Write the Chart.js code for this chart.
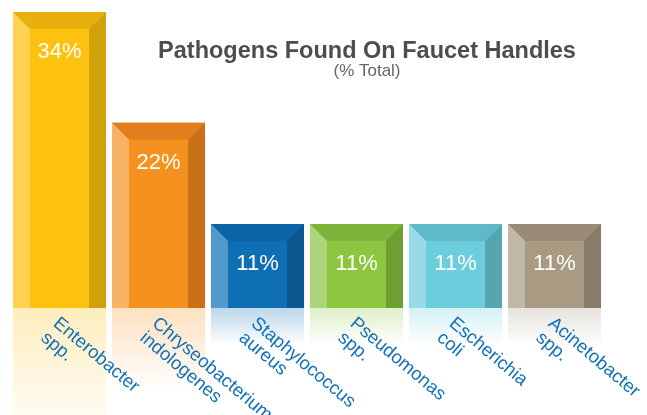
<!DOCTYPE html>
<html>
<head>
<meta charset="utf-8">
<script src="https://cdn.jsdelivr.net/npm/chart.js@4"></script>
<style>
  body { margin: 0; background: #fff; }
  #wrap { width: 647px; height: 415px; }
</style>
</head>
<body>
<div id="wrap"><canvas id="myChart" width="647" height="415"></canvas></div>
<script>
/*** Datos */
var etiquetas = [
    ["Enterobacter", "spp."],
    ["Chryseobacterium", "indologenes"],
    ["Staphylococcus", "aureus"],
    ["Pseudomonas", "spp."],
    ["Escherichia", "coli"],
    ["Acinetobacter", "spp."]
];
var porcentajes = [34, 22, 11, 11, 11, 11];
var titulo = "Pathogens Found On Faucet Handles";
var subtitulo = "(% Total)";

var yMin = 1.9;
var yMax = 34;

/*** Colores de cada barra (cara, lado izq, arriba, lado der) */
var colorCara = ['#fdc20f', '#f5921f', '#0e6fb5', '#8cc53f', '#6ccddc', '#a89a83'];
var colorIzq  = ['#fdd152', '#f8b266', '#5299cc', '#acd47a', '#98dbe6', '#c2b8a8'];
var colorArr  = ['#e7b00f', '#e07f1c', '#0c63a5', '#7db43a', '#5fbac8', '#998b75'];
var colorDer  = ['#cfa20c', '#c97118', '#0b5890', '#6f9f31', '#56a6b2', '#877b69'];
var colorRefl = ['253,194,15', '245,146,31', '14,111,181', '140,197,63', '108,205,220', '168,154,131'];

var bisel = 17;

var pluginBarras = {
    id: 'barras3d',
    beforeDatasetsDraw: function(chart) {
        // reflejo debajo de cada barra
        var ctx = chart.ctx;
        var meta = chart.getDatasetMeta(0);
        meta.data.forEach(function(bar, i) {
            var izq = bar.x - bar.width / 2;
            var alto = (bar.base - bar.y) * 0.45;
            var grad = ctx.createLinearGradient(0, bar.base, 0, bar.base + alto);
            grad.addColorStop(0, 'rgba(' + colorRefl[i] + ',0.28)');
            grad.addColorStop(1, 'rgba(' + colorRefl[i] + ',0)');
            ctx.save();
            ctx.fillStyle = grad;
            ctx.fillRect(izq, bar.base, bar.width, alto);
            ctx.restore();
        });
    },
    afterDatasetsDraw: function(chart) {
        var ctx = chart.ctx;
        var meta = chart.getDatasetMeta(0);
        meta.data.forEach(function(bar, i) {
            var l = bar.x - bar.width / 2;
            var r = bar.x + bar.width / 2;
            var t = bar.y;
            var b = bar.base;
            ctx.save();
            // arriba
            ctx.fillStyle = colorArr[i];
            ctx.beginPath();
            ctx.moveTo(l, t); ctx.lineTo(r, t); ctx.lineTo(r - bisel, t + bisel); ctx.lineTo(l + bisel, t + bisel);
            ctx.closePath(); ctx.fill();
            // lado izquierdo
            ctx.fillStyle = colorIzq[i];
            ctx.beginPath();
            ctx.moveTo(l, t); ctx.lineTo(l + bisel, t + bisel); ctx.lineTo(l + bisel, b); ctx.lineTo(l, b);
            ctx.closePath(); ctx.fill();
            // lado derecho
            ctx.fillStyle = colorDer[i];
            ctx.beginPath();
            ctx.moveTo(r, t); ctx.lineTo(r - bisel, t + bisel); ctx.lineTo(r - bisel, b); ctx.lineTo(r, b);
            ctx.closePath(); ctx.fill();
            // valor
            ctx.fillStyle = '#ffffff';
            ctx.font = '22px "Liberation Sans", Arial, sans-serif';
            ctx.textAlign = 'center';
            ctx.textBaseline = 'middle';
            ctx.fillText(porcentajes[i] + '%', bar.x, t + 40);
            ctx.restore();
        });
    },
    afterDraw: function(chart) {
        var ctx = chart.ctx;
        var xScale = chart.scales.x;
        ctx.save();
        // etiquetas giradas
        ctx.fillStyle = '#1170b8';
        ctx.font = '18.5px "Liberation Sans", Arial, sans-serif';
        ctx.textAlign = 'left';
        ctx.textBaseline = 'top';
        etiquetas.forEach(function(lineas, i) {
            var x = xScale.getPixelForValue(i);
            ctx.save();
            ctx.translate(x + 2, chart.chartArea.bottom + 6);
            ctx.rotate(40 * Math.PI / 180);
            lineas.forEach(function(txt, k) {
                ctx.fillText(txt, 0, k * 19);
            });
            ctx.restore();
        });
        // titulo
        ctx.textAlign = 'center';
        ctx.textBaseline = 'alphabetic';
        ctx.fillStyle = '#4d4d4d';
        ctx.font = 'bold 23.5px "Liberation Sans", Arial, sans-serif';
        ctx.fillText(titulo, 367, 58);
        ctx.fillStyle = '#666666';
        ctx.font = '17px "Liberation Sans", Arial, sans-serif';
        ctx.fillText(subtitulo, 367, 76);
        ctx.restore();
    }
};

var ctx = document.getElementById("myChart").getContext('2d');
var myChart = new Chart(ctx, {
    type: 'bar',
    data: {
        labels: etiquetas,
        datasets: [{
            data: porcentajes,
            base: yMin,
            backgroundColor: colorCara,
            borderWidth: 0,
            categoryPercentage: 1.0,
            barPercentage: 0.94
        }]
    },
    options: {
        responsive: false,
        animation: false,
        layout: { padding: { top: 12, bottom: 107, left: 10, right: 43 } },
        plugins: {
            legend: { display: false },
            tooltip: { enabled: false }
        },
        scales: {
            x: { display: false },
            y: { display: false, min: yMin, max: yMax }
        }
    },
    plugins: [pluginBarras]
});
</script>
</body>
</html>
